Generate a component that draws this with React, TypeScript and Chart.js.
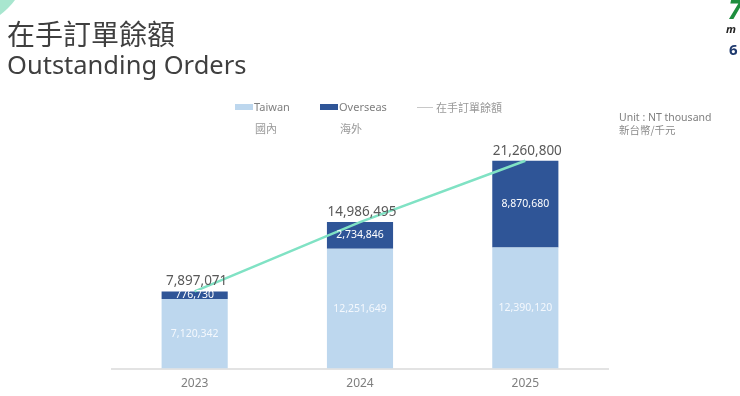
import React, { useEffect, useRef } from "react";
import { Chart, registerables } from "chart.js";

Chart.register(...registerables);

const categories = ["2023", "2024", "2025"];
const taiwan = [7120342, 12251649, 12390120];
const overseas = [776730, 2734846, 8870680];
const totals = [7897071, 14986495, 21260800];

const fmt = (v: number) => v.toLocaleString("en-US");

const labelPlugin = {
  id: "barLabels",
  afterDatasetsDraw(chart: any) {
    const ctx = chart.ctx;
    ctx.save();
    ctx.textAlign = "center";
    ctx.textBaseline = "middle";
    ctx.font = '10.5px "Noto Sans", sans-serif';
    [0, 1].forEach((di) => {
      const meta = chart.getDatasetMeta(di);
      const data = chart.data.datasets[di].data as number[];
      meta.data.forEach((el: any, i: number) => {
        const cy = (el.y + el.base) / 2;
        ctx.fillStyle = di === 0 ? "#f4f8fd" : "#ffffff";
        ctx.fillText(fmt(data[i]), el.x, cy);
      });
    });
    const top = chart.getDatasetMeta(1);
    ctx.font = '13.5px "Noto Sans", sans-serif';
    ctx.fillStyle = "#595959";
    ctx.textBaseline = "bottom";
    top.data.forEach((el: any, i: number) => {
      ctx.fillText(fmt(totals[i]), el.x + 2, el.y - 3);
    });
    ctx.restore();
  },
};

export default function App() {
  const ref = useRef<HTMLCanvasElement>(null);
  useEffect(() => {
    const chart = new Chart(ref.current!, {
      data: {
        labels: categories,
        datasets: [
          {
            type: "bar",
            label: "Taiwan",
            data: taiwan,
            backgroundColor: "#bdd7ee",
            stack: "s",
            categoryPercentage: 1,
            barPercentage: 0.4,
            order: 2,
          },
          {
            type: "bar",
            label: "Overseas",
            data: overseas,
            backgroundColor: "#2f5597",
            stack: "s",
            categoryPercentage: 1,
            barPercentage: 0.4,
            order: 2,
          },
          {
            type: "line",
            label: "在手訂單餘額",
            data: totals,
            borderColor: "#80e2c4",
            borderWidth: 2.5,
            pointRadius: 0,
            order: 1,
          },
        ],
      } as any,
      options: {
        animation: false,
        responsive: false,
        maintainAspectRatio: false,
        layout: { padding: { left: 112, right: 132, top: 134, bottom: 6 } },
        plugins: { legend: { display: false }, tooltip: { enabled: false } },
        scales: {
          x: {
            stacked: true,
            grid: { display: false, drawTicks: false, tickLength: 0 },
            border: { display: true, color: "#e3e3e3", width: 2 },
            ticks: {
              color: "#7f7f7f",
              padding: 8,
              font: { family: "Noto Sans", size: 12 },
            },
          },
          y: {
            stacked: true,
            display: false,
            min: 0,
            max: 24000000,
          },
        },
      },
      plugins: [labelPlugin],
    });
    return () => chart.destroy();
  }, []);

  const txt = (style: React.CSSProperties, s: string) => (
    <div style={{ position: "absolute", whiteSpace: "nowrap", ...style }}>{s}</div>
  );

  return (
    <div
      style={{
        position: "fixed",
        left: 0,
        top: 0,
        width: 740,
        height: 396,
        background: "#ffffff",
        overflow: "hidden",
        fontFamily: '"Noto Sans", "Noto Sans CJK TC", sans-serif',
      }}
    >
      <div
        style={{
          position: "absolute",
          left: -108,
          top: -108,
          width: 136,
          height: 136,
          borderRadius: "50%",
          background: "#a8e6cf",
        }}
      />
      <canvas ref={ref} width={740} height={405} style={{ position: "absolute", left: 0, top: 0 }} />
      {txt({ left: 7, top: 14, fontSize: 28, color: "#3f3f3f", fontFamily: '"Noto Sans CJK TC", sans-serif', lineHeight: "38px" }, "在手訂單餘額")}
      {txt({ left: 7, top: 46, fontSize: 25.5, color: "#3f3f3f", lineHeight: "36px" }, "Outstanding Orders")}
      <div style={{ position: "absolute", left: 235, top: 104, width: 18, height: 6, background: "#bdd7ee" }} />
      {txt({ left: 254, top: 99, fontSize: 11, color: "#7f7f7f", lineHeight: "16px" }, "Taiwan")}
      {txt({ left: 255, top: 120, fontSize: 11, color: "#9a9a9a", lineHeight: "16px", fontFamily: '"Noto Sans CJK TC", sans-serif' }, "國內")}
      <div style={{ position: "absolute", left: 320, top: 104, width: 18, height: 6, background: "#2f5597" }} />
      {txt({ left: 339, top: 99, fontSize: 11, color: "#7f7f7f", lineHeight: "16px" }, "Overseas")}
      {txt({ left: 340, top: 120, fontSize: 11, color: "#9a9a9a", lineHeight: "16px", fontFamily: '"Noto Sans CJK TC", sans-serif' }, "海外")}
      <div style={{ position: "absolute", left: 417, top: 107, width: 16, height: 1, background: "#c8c8c8" }} />
      {txt({ left: 436, top: 99, fontSize: 11, color: "#9a9a9a", lineHeight: "16px", fontFamily: '"Noto Sans CJK TC", sans-serif' }, "在手訂單餘額")}
      {txt({ left: 619, top: 110, fontSize: 10.5, color: "#7f7f7f", lineHeight: "14px" }, "Unit : NT thousand")}
      {txt({ left: 619, top: 123, fontSize: 10.5, color: "#8a8a8a", lineHeight: "14px", fontFamily: '"Noto Sans CJK TC", sans-serif' }, "新台幣/千元")}
      {txt({ left: 728, top: -6, fontSize: 26, fontWeight: 700, fontStyle: "italic", color: "#1e8e3e", lineHeight: "30px" }, "7")}
      {txt({ left: 726, top: 22, fontSize: 11, fontWeight: 700, fontStyle: "italic", color: "#222", lineHeight: "14px" }, "m")}
      {txt({ left: 729, top: 40, fontSize: 15, fontWeight: 700, color: "#1f3a6e", lineHeight: "18px" }, "6")}
    </div>
  );
}
